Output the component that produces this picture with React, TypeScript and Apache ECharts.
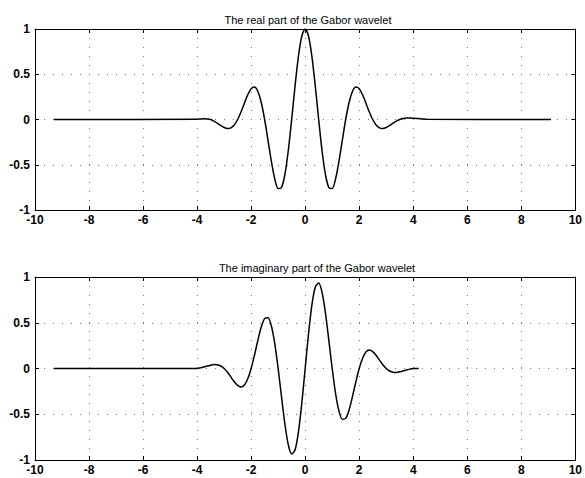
import React, { useEffect, useRef } from "react";
import * as echarts from "echarts";

const realX = [-9.3, -4.0, -3.875, -3.75, -3.625, -3.5, -3.375, -3.25, -3.125, -3.0, -2.875, -2.75, -2.625, -2.5, -2.375, -2.25, -2.125, -2.0, -1.875, -1.75, -1.625, -1.5, -1.375, -1.25, -1.125, -1.0, -0.875, -0.75, -0.625, -0.5, -0.375, -0.25, -0.125, 0, 0.125, 0.25, 0.375, 0.5, 0.625, 0.75, 0.875, 1.0, 1.125, 1.25, 1.375, 1.5, 1.625, 1.75, 1.875, 2.0, 2.125, 2.25, 2.375, 2.5, 2.625, 2.75, 2.875, 3.0, 3.125, 3.25, 3.375, 3.5, 3.625, 3.75, 3.875, 4.0, 4.5, 9.1];
const realY = [0, 0.003, 0.006, 0.008, 0.006, 0, -0.018, -0.041, -0.066, -0.088, -0.099, -0.092, -0.06, 0, 0.083, 0.18, 0.273, 0.34, 0.358, 0.309, 0.188, 0, -0.23, -0.464, -0.657, -0.763, -0.751, -0.607, -0.345, 0, 0.369, 0.695, 0.92, 1, 0.92, 0.695, 0.369, 0, -0.345, -0.607, -0.751, -0.763, -0.657, -0.464, -0.23, 0, 0.188, 0.309, 0.358, 0.34, 0.273, 0.18, 0.083, 0, -0.06, -0.092, -0.099, -0.088, -0.066, -0.041, -0.018, 0, 0.011, 0.016, 0.016, 0.013, 0.004, 0];

const imagX = [-9.3, -4.0, -3.875, -3.75, -3.625, -3.5, -3.375, -3.25, -3.125, -3.0, -2.875, -2.75, -2.625, -2.5, -2.375, -2.25, -2.125, -2.0, -1.875, -1.75, -1.625, -1.5, -1.375, -1.25, -1.125, -1.0, -0.875, -0.75, -0.625, -0.5, -0.375, -0.25, -0.125, 0, 0.125, 0.25, 0.375, 0.5, 0.625, 0.75, 0.875, 1.0, 1.125, 1.25, 1.375, 1.5, 1.625, 1.75, 1.875, 2.0, 2.125, 2.25, 2.375, 2.5, 2.625, 2.75, 2.875, 3.0, 3.125, 3.25, 3.375, 3.5, 3.625, 3.75, 3.875, 4.0, 4.2];
const imagY = [0, 0, 0.007, 0.016, 0.027, 0.036, 0.043, 0.041, 0.027, 0, -0.041, -0.092, -0.144, -0.185, -0.201, -0.18, -0.113, 0, 0.148, 0.309, 0.453, 0.545, 0.554, 0.464, 0.272, 0, -0.311, -0.607, -0.832, -0.935, -0.89, -0.695, -0.381, 0, 0.381, 0.695, 0.89, 0.935, 0.832, 0.607, 0.311, 0, -0.272, -0.464, -0.554, -0.545, -0.453, -0.309, -0.148, 0, 0.113, 0.18, 0.201, 0.185, 0.144, 0.092, 0.041, 0, -0.027, -0.041, -0.043, -0.036, -0.027, -0.016, -0.007, 0, 0];

const titles = ["The real part of the Gabor wavelet", "The imaginary part of the Gabor wavelet"];

const FONT = "'Liberation Sans', Arial, sans-serif";

export default function App() {
  const ref = useRef<HTMLDivElement>(null);
  useEffect(() => {
    if (!ref.current) return;
    const chart = echarts.init(ref.current, null, { renderer: "svg" });
    const grids = [
      { left: 35, right: 7, top: 29, height: 181 },
      { left: 35, right: 7, top: 277, height: 183 },
    ];
    const splitLine = { show: true, lineStyle: { color: "#777", type: [1, 8] as any, width: 1 } };
    const xAxes: any[] = [];
    const yAxes: any[] = [];
    const line = { show: true, onZero: false, lineStyle: { color: "#000" } };
    const tick = { show: true, inside: true, length: 4, lineStyle: { color: "#000" } };
    for (let i = 0; i < 2; i++) {
      xAxes.push({
        type: "value", gridIndex: i, min: -10, max: 10, interval: 2, position: "bottom",
        axisLine: line, axisTick: tick,
        axisLabel: { color: "#000", fontFamily: FONT, fontSize: 12, fontWeight: "bold", margin: 4 },
        splitLine,
      });
      xAxes.push({
        type: "value", gridIndex: i, min: -10, max: 10, interval: 2, position: "top",
        axisLine: line, axisTick: tick,
        axisLabel: { show: false }, splitLine: { show: false },
      });
      yAxes.push({
        type: "value", gridIndex: i, min: -1, max: 1, interval: 0.5, position: "left",
        axisLine: line, axisTick: tick,
        axisLabel: { color: "#000", fontFamily: FONT, fontSize: 12, fontWeight: "bold", margin: 5 },
        splitLine,
      });
      yAxes.push({
        type: "value", gridIndex: i, min: -1, max: 1, interval: 0.5, position: "right",
        axisLine: line, axisTick: tick,
        axisLabel: { show: false }, splitLine: { show: false },
      });
    }
    const titleStyle = { fontFamily: FONT, fontSize: 11, fontWeight: 500, color: "#000" };
    chart.setOption({
      animation: false,
      backgroundColor: "#fff",
      title: [
        { text: titles[0], left: 303, top: 9, textAlign: "center", textStyle: titleStyle },
        { text: titles[1], left: 312, top: 257, textAlign: "center", textStyle: titleStyle },
      ],
      grid: grids,
      xAxis: xAxes,
      yAxis: yAxes,
      series: [
        {
          type: "line", xAxisIndex: 0, yAxisIndex: 0, showSymbol: false, smooth: 0.3,
          data: realX.map((x, k) => [x, realY[k]]),
          lineStyle: { color: "#000", width: 1.5 },
        },
        {
          type: "line", xAxisIndex: 2, yAxisIndex: 2, showSymbol: false, smooth: 0.3,
          data: imagX.map((x, k) => [x, imagY[k]]),
          lineStyle: { color: "#000", width: 1.5 },
        },
      ],
    });
    return () => chart.dispose();
  }, []);
  return <div ref={ref} style={{ position: "fixed", left: 0, top: 0, width: 585, height: 478 }} />;
}
